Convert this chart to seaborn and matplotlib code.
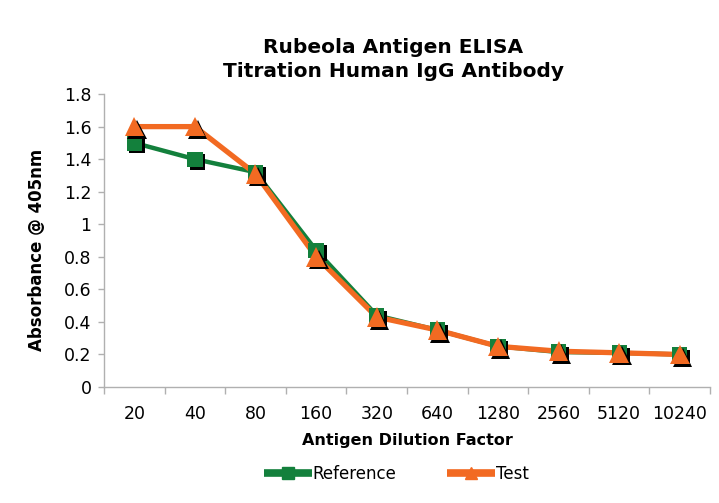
import matplotlib
matplotlib.use('Agg')
import matplotlib.pyplot as plt
import matplotlib.patheffects as pe
import seaborn as sns
import pandas as pd
import numpy as np

# data
dilutions = ["20", "40", "80", "160", "320", "640", "1280", "2560", "5120", "10240"]
reference = [1.50, 1.40, 1.32, 0.84, 0.44, 0.35, 0.25, 0.215, 0.21, 0.20]
test = [1.60, 1.60, 1.31, 0.80, 0.43, 0.35, 0.25, 0.22, 0.21, 0.20]

green = "#13803c"
orange = "#f26a22"

df = pd.DataFrame({
    "dilution": dilutions * 2,
    "absorbance": reference + test,
    "series": ["Reference"] * len(dilutions) + ["Test"] * len(dilutions),
})
df["pos"] = np.tile(np.arange(len(dilutions)), 2)

sns.set_theme(style="white")
plt.rcParams['font.family'] = ['DejaVu Sans']
plt.rcParams['text.color'] = 'black'
plt.rcParams['xtick.color'] = 'black'
plt.rcParams['ytick.color'] = 'black'

fig = plt.figure(figsize=(7.19, 5.03), dpi=100)
ax = fig.add_axes([0.1446, 0.2306, 0.843, 0.5824])

palette = {"Reference": green, "Test": orange}
widths = {"Reference": 3.2, "Test": 3.8}
markers = {"Reference": "s", "Test": "^"}
msizes = {"Reference": 11, "Test": 14}
shadow = [pe.SimplePatchShadow(offset=(2, -2), shadow_rgbFace="black", alpha=1.0), pe.Normal()]

for name in ["Reference", "Test"]:
    sub = df[df["series"] == name]
    sns.lineplot(data=sub, x="pos", y="absorbance", color=palette[name],
                 lw=widths[name], ax=ax, zorder=2, legend=False)
    ax.plot(sub["pos"], sub["absorbance"], linestyle="none", marker=markers[name],
            markersize=msizes[name], markerfacecolor=palette[name],
            markeredgecolor=palette[name], markeredgewidth=0,
            path_effects=shadow, zorder=3)

ax.set_xlim(-0.5, len(dilutions) - 0.5)
ax.set_ylim(0, 1.8)
ax.set_yticks(np.arange(0, 1.81, 0.2))
ax.set_yticklabels(["0", "0.2", "0.4", "0.6", "0.8", "1", "1.2", "1.4", "1.6", "1.8"])
ax.set_xticks(np.arange(len(dilutions)))
ax.set_xticklabels(dilutions)
ax.set_xticks(np.arange(-0.5, len(dilutions)), minor=True)
ax.tick_params(axis="x", which="major", length=0, pad=13, labelsize=12.5, labelcolor="black")
ax.tick_params(axis="x", which="minor", length=5, width=1, color="#b0b0b0", bottom=True)
ax.tick_params(axis="y", which="major", length=4, width=1, color="#b0b0b0", left=True,
               labelsize=12.5, pad=5, labelcolor="black")

for s in ["top", "right"]:
    ax.spines[s].set_visible(False)
for s in ["left", "bottom"]:
    ax.spines[s].set_color("#b0b0b0")
    ax.spines[s].set_linewidth(1)

ax.set_xlabel("")
ax.set_ylabel("")
fig.text(0.547, 0.882, "Rubeola Antigen ELISA\nTitration Human IgG Antibody",
         ha="center", va="center", fontsize=14.5, fontweight="bold", linespacing=1.3)
fig.text(0.567, 0.124, "Antigen Dilution Factor", ha="center", va="center",
         fontsize=11.5, fontweight="bold")
fig.text(0.052, 0.503, "Absorbance @ 405nm", ha="center", va="center", rotation=90,
         fontsize=12, fontweight="bold")

handles = [
    plt.Line2D([], [], color=green, lw=5.5, marker="s", markersize=8, solid_capstyle="butt"),
    plt.Line2D([], [], color=orange, lw=5.5, marker="^", markersize=9, solid_capstyle="butt"),
]
fig.legend(handles, ["Reference", "Test"], loc="center", bbox_to_anchor=(0.551, 0.057),
           ncol=2, frameon=False, fontsize=12, handlelength=2.9, handletextpad=0.05,
           columnspacing=3.0)

fig.savefig("out.png", dpi=100)
plt.close(fig)
